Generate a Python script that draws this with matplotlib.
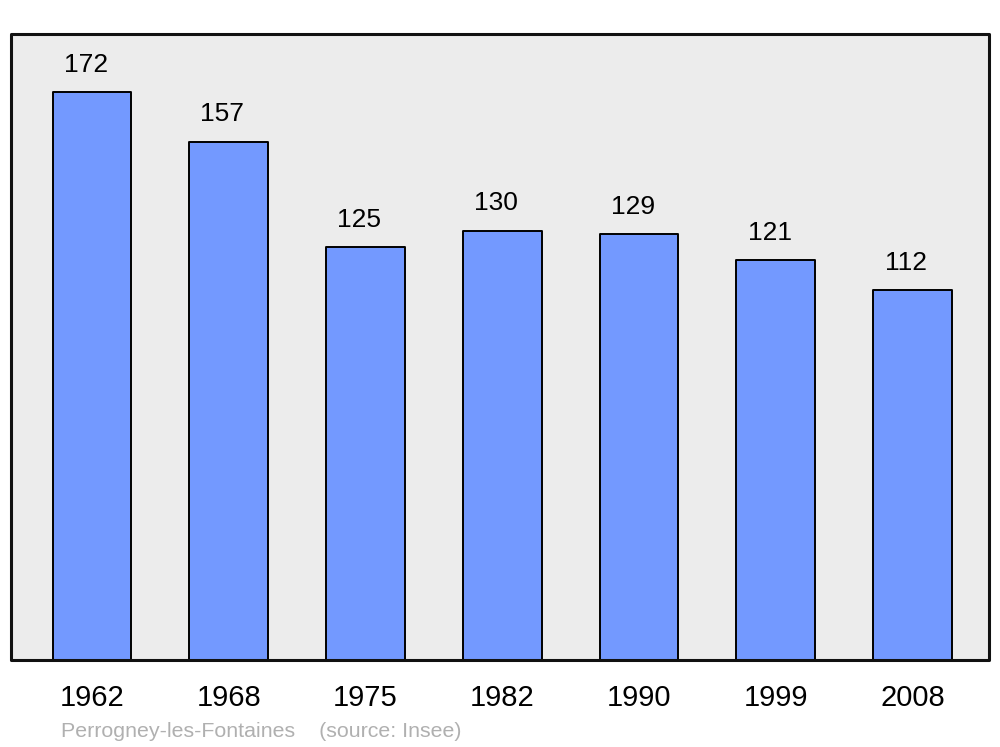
import matplotlib.pyplot as plt
from matplotlib.patches import Rectangle

years = ['1962', '1968', '1975', '1982', '1990', '1999', '2008']
population = [172, 157, 125, 130, 129, 121, 112]
town = 'Perrogney-les-Fontaines'
source = '(source: Insee)'

plt.rcParams['font.family'] = ['Liberation Sans', 'DejaVu Sans']

fig = plt.figure(figsize=(10, 7.47), dpi=100)
ax = fig.add_axes([0.011, 0.1165, 0.978, 0.838])
ax.set_facecolor('#ececec')

x = range(len(years))
bars = ax.bar(x, population, width=0.575, color='#7399ff', edgecolor='black',
              linewidth=1.4, zorder=2)
for b in bars:
    b.set_joinstyle('round')

for xi, v in zip(x, population):
    ax.annotate(str(v), (xi, v), xytext=(-4.5, 11), textcoords='offset points',
                ha='center', va='bottom', fontsize=19)

ax.set_xlim(-0.592, 6.559)
ax.set_ylim(0, 189.6)
ax.set_xticks(list(x))
ax.set_xticklabels(years, fontsize=21)
ax.tick_params(axis='x', length=0, pad=17)
ax.set_yticks([])
for s in ax.spines.values():
    s.set_visible(False)

frame = Rectangle((0, 0), 1, 1, transform=ax.transAxes, fill=False,
                  edgecolor='#111111', linewidth=2.2, joinstyle='round',
                  clip_on=False, zorder=5)
ax.add_patch(frame)

fig.text(0.061, 0.014, town + '    ' + source, fontsize=15.4, color='#b0b0b0',
         ha='left', va='baseline')

fig.savefig('out.png', dpi=100)
